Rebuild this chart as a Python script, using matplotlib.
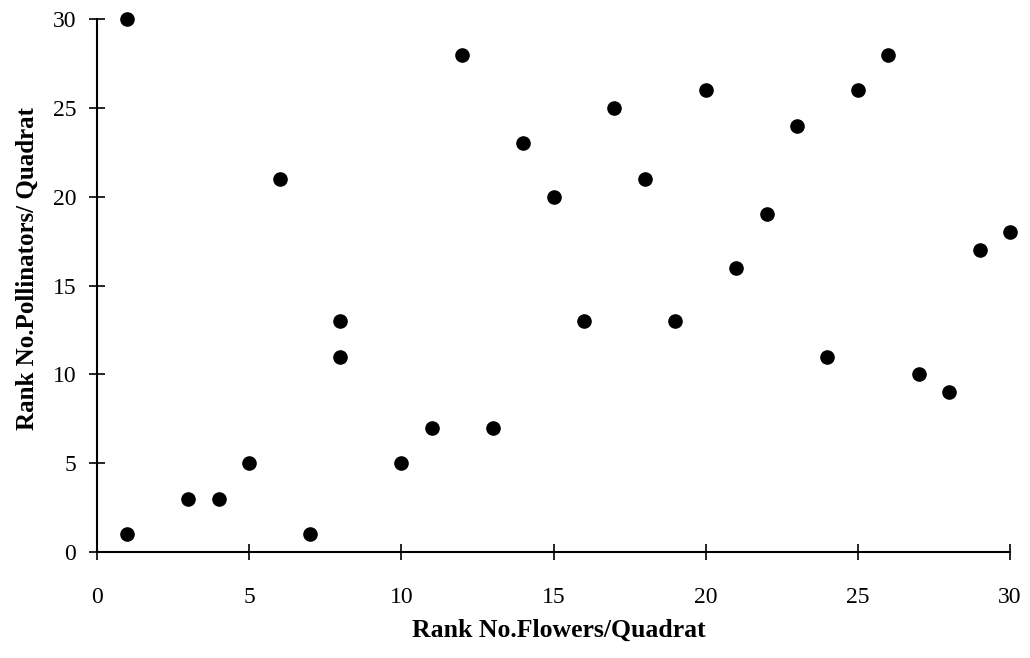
import matplotlib
matplotlib.use("Agg")
import matplotlib.pyplot as plt

# rank data
rank_flowers = [1, 1, 3, 4, 5, 6, 7, 8, 8, 10, 11, 12, 13, 14, 15,
                16, 17, 18, 19, 20, 21, 22, 23, 24, 25, 26, 27, 28, 29, 30]
rank_pollinators = [1, 30, 3, 3, 5, 21, 1, 13, 11, 5, 7, 28, 7, 23, 20,
                    13, 25, 21, 13, 26, 16, 19, 24, 11, 26, 28, 10, 9, 17, 18]
ticks = [0, 5, 10, 15, 20, 25, 30]

plt.rcParams['font.family'] = ['Liberation Serif', 'DejaVu Serif']

fig = plt.figure(figsize=(10.3, 6.58), dpi=100)
ax = fig.add_axes([0.0942, 0.1611, 0.8864, 0.81])

ax.plot(rank_flowers, rank_pollinators, 'o', color='black', markersize=9.5, clip_on=False)

ax.set_xlim(0, 30)
ax.set_ylim(0, 30)
ax.set_xticks(ticks)
ax.set_yticks(ticks)
ax.spines['top'].set_visible(False)
ax.spines['right'].set_visible(False)
ax.spines['left'].set_linewidth(1.5)
ax.spines['bottom'].set_linewidth(1.5)
ax.tick_params(direction='inout', length=12, width=1.2, labelsize=17)
ax.tick_params(axis='x', pad=19)
ax.tick_params(axis='y', pad=9)

ax.set_xlabel('Rank No.Flowers/Quadrat', fontsize=18.5, fontweight='bold', labelpad=8, x=0.506)
ax.set_ylabel('Rank No.Pollinators/ Quadrat', fontsize=18, fontweight='bold', labelpad=10, y=0.531)

plt.savefig('out.png', dpi=100)
